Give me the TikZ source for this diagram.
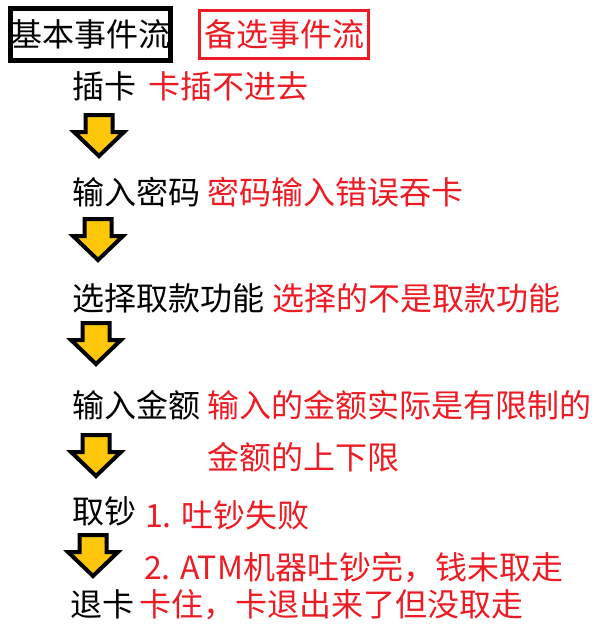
\documentclass[tikz,border=0pt]{standalone}
\usepackage{fontspec}
\setmainfont{Noto Sans CJK SC}
\usetikzlibrary{positioning}
\definecolor{altred}{RGB}{237,28,36}
\definecolor{arrowgold}{RGB}{255,199,10}

\begin{document}
\begin{tikzpicture}[x=1pt, y=-1pt,
    every node/.style={font=\fontsize{32}{38}\selectfont, inner sep=0pt, anchor=west},
    altflow/.style={text=altred},
    downarrow/.style={draw=black, line width=4pt, fill=arrowgold, line join=miter}]
  \useasboundingbox (0,0) rectangle (600,637);
  % the two headings
  \node[draw, line width=5pt, minimum height=52pt, minimum width=158pt, anchor=center]
    (basic) at (90.5,34.5) {基本事件流};
  \node[draw=altred, line width=3pt, altflow, minimum height=48pt, minimum width=169pt, anchor=center]
    (alt) at (284,34.5) {备选事件流};
  % basic flow, one step per line
  \node (s1) at (72,86) {插卡};
  \node (s2) at (72,192) {输入密码};
  \node (s3) at (72,298) {选择取款功能};
  \node (s4) at (72,405) {输入金额};
  \node (s5) at (72,511) {取钞};
  \node (s6) at (70,604) {退卡};
  % alternative flow beside each step
  \node[altflow, right=12pt of s1] (e1) {卡插不进去};
  \node[altflow, right=7pt of s2] (e2) {密码输入错误吞卡};
  \node[altflow, right=8pt of s3] (e3) {选择的不是取款功能};
  \node[altflow, right=7pt of s4] (e4) {输入的金额实际是有限制的};
  \node[altflow] (e4b) at (207,457) {金额的上下限};
  \node[altflow] (e5) at (145,515) {1. 吐钞失败};
  \node[altflow] (e6) at (144,568) {2. ATM机器吐钞完，钱未取走};
  \node[altflow] (e6b) at (139,605) {卡住，卡退出来了但没取走};
  % block arrows between the steps
  \foreach \i/\x/\y in {1/99/135, 2/98/239, 3/96/343, 4/96/455, 5/93/555}{
    \coordinate (a\i) at (\x,\y);
    \draw[downarrow] ([shift={(-13.5,-20)}]a\i) -- ([shift={(13.5,-20)}]a\i)
      -- ([shift={(13.5,-3)}]a\i) -- ([shift={(25,-3)}]a\i)
      -- ([shift={(0,21)}]a\i) -- ([shift={(-25,-3)}]a\i)
      -- ([shift={(-13.5,-3)}]a\i) -- cycle;
  }
\end{tikzpicture}
\end{document}
